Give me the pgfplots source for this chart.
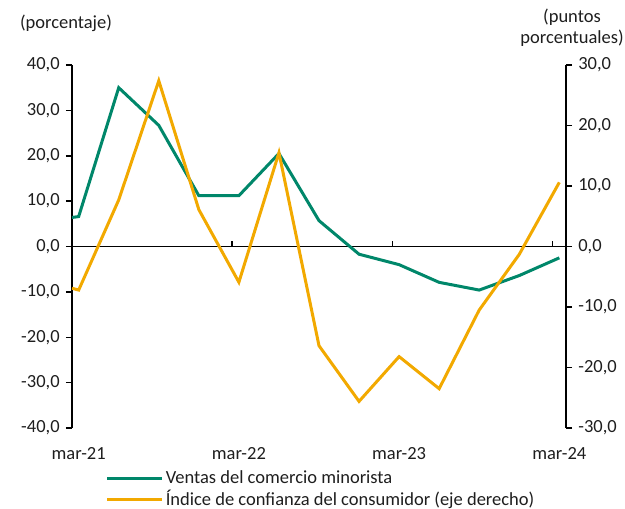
\documentclass[border=0pt]{standalone}
\usepackage{pgfplots}
\pgfplotsset{compat=1.18}
\usepackage{fontspec}
\setmainfont{Carlito}
\definecolor{cgreen}{HTML}{00876A}
\definecolor{corange}{HTML}{F2A900}
\definecolor{ctxt}{HTML}{1E1E1E}
\newcommand{\fs}{\fontsize{18.5pt}{22pt}\selectfont}
\begin{document}
\fs
\begin{tikzpicture}
\pgfplotsset{
  common/.style={
    scale only axis, width=494pt, height=363pt,
    xmin=0, xmax=37,
    tick align=outside, major tick length=6pt,
    every tick/.style={black, line width=1.5pt},
    axis line style={black, line width=1.5pt},
    tick label style={font=\fs, text=ctxt},
    /pgf/number format/.cd, use comma, fixed, fixed zerofill, precision=1, assume math mode=true,
  }
}
\begin{axis}[common, name=ax,
  ymin=-40, ymax=40, ytick={-40,-30,...,40},
  axis y line*=left, axis x line*=bottom,
  x axis line style={draw=none},
  xtick={0.5,12.5,24.5,36.5},
  xticklabels={mar-21,mar-22,mar-23,mar-24},
  xtick style={draw=none},
  xticklabel style={yshift=-7pt},
  legend style={at={(0.068,-0.111)}, anchor=north west, draw=none, fill=none,
    font=\fs, text=ctxt, row sep=0pt, inner sep=0pt,
    /tikz/every even column/.append style={column sep=1pt}},
  legend cell align=left,
  legend image code/.code={\draw[#1, line width=3pt] (0pt,0pt) -- (55pt,0pt);},
]
\draw[black, line width=1.5pt] (axis cs:0,0) -- (axis cs:37,0);
\draw[black, line width=1.5pt] (axis cs:12,0) -- ([yshift=6pt]axis cs:12,0);
\draw[black, line width=1.5pt] (axis cs:24,0) -- ([yshift=6pt]axis cs:24,0);
\draw[black, line width=1.5pt] (axis cs:36,0) -- ([yshift=6pt]axis cs:36,0);
\addplot[cgreen, line width=3pt] coordinates {
(0,6.4) (0.5,6.6) (3.5,35.0) (6.5,26.7) (9.5,11.2) (12.5,11.2) (15.5,20.5) (18.5,5.7)
(21.5,-1.7) (24.5,-4.0) (27.5,-7.9) (30.5,-9.6) (33.5,-6.4) (36.5,-2.5)};
\addlegendentry{Ventas del comercio minorista}
\addlegendimage{corange, line width=3pt}
\addlegendentry{Índice de confianza del consumidor (eje derecho)}
\end{axis}
\begin{axis}[common,
  ymin=-30, ymax=30, ytick={-30,-20,...,30},
  axis y line*=right, axis x line=none,
]
\addplot[corange, line width=3pt] coordinates {
(0,-6.9) (0.5,-7.2) (3.5,7.7) (6.5,27.4) (9.5,6.1) (12.5,-5.9) (15.5,15.5) (18.5,-16.4)
(21.5,-25.6) (24.5,-18.2) (27.5,-23.5) (30.5,-10.5) (33.5,-1.3) (36.5,10.6)};
\end{axis}
\node[text=ctxt, anchor=base, inner sep=0pt] at ([shift={(-6pt,37pt)}]ax.north west) {(porcentaje)};
\node[text=ctxt, anchor=base, inner sep=0pt] at ([shift={(6pt,43pt)}]ax.north east) {(puntos};
\node[text=ctxt, anchor=base, inner sep=0pt] at ([shift={(6pt,22pt)}]ax.north east) {porcentuales)};
\pgfresetboundingbox
\useasboundingbox ([shift={(-72pt,-81pt)}]ax.south west) rectangle ([shift={(553pt,428pt)}]ax.south west);
\end{tikzpicture}
\end{document}
